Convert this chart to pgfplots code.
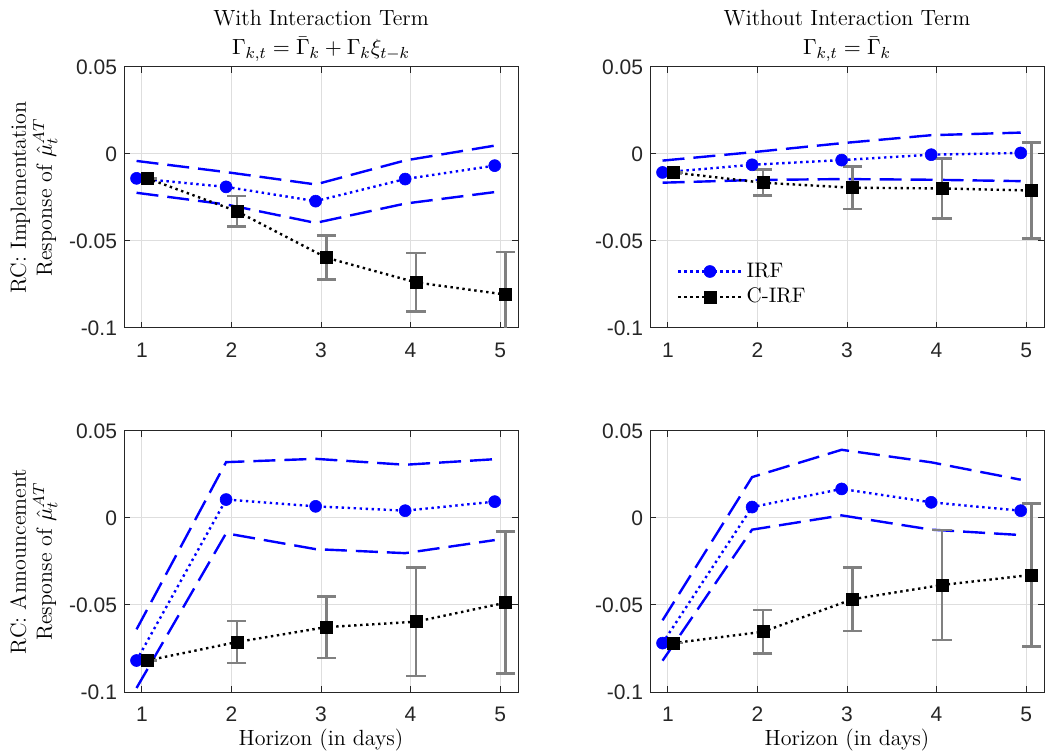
\documentclass[border=0pt]{standalone}
\usepackage{pgfplots}
\pgfplotsset{compat=1.18}
\usepackage{pgfplotstable}
\usepackage{fontspec}
\newfontfamily\arial{Liberation Sans}

\pgfplotstableread{
xi xc irf lo hi cirf err
0.94 1.06 -0.0140 -0.0223 -0.0040 -0.0140 0
1.94 2.06 -0.0189 -0.0290 -0.0104 -0.0329 0.0088
2.94 3.06 -0.0271 -0.0396 -0.0175 -0.0596 0.0127
3.94 4.06 -0.0144 -0.0285 -0.0037 -0.0738 0.0168
4.94 5.06 -0.0067 -0.0219 0.0048 -0.0808 0.0245
}\dataTL
\pgfplotstableread{
xi xc irf lo hi cirf err
0.94 1.06 -0.0106 -0.0165 -0.0038 -0.0106 0
1.94 2.06 -0.0062 -0.0150 0.0010 -0.0165 0.0075
2.94 3.06 -0.0035 -0.0144 0.0062 -0.0194 0.0123
3.94 4.06 -0.0004 -0.0148 0.0108 -0.0198 0.0172
4.94 5.06 0.0006 -0.0156 0.0123 -0.0210 0.0277
}\dataTR
\pgfplotstableread{
xi xc irf lo hi cirf err
0.94 1.06 -0.0819 -0.0977 -0.0640 -0.0819 0
1.94 2.06 0.0106 -0.0088 0.0321 -0.0713 0.0121
2.94 3.06 0.0067 -0.0179 0.0340 -0.0627 0.0177
3.94 4.06 0.0042 -0.0202 0.0306 -0.0596 0.0312
4.94 5.06 0.0094 -0.0127 0.0338 -0.0487 0.0408
}\dataBL
\pgfplotstableread{
xi xc irf lo hi cirf err
0.94 1.06 -0.0719 -0.0820 -0.0588 -0.0719 0
1.94 2.06 0.0063 -0.0067 0.0235 -0.0654 0.0125
2.94 3.06 0.0167 0.0015 0.0392 -0.0467 0.0182
3.94 4.06 0.0090 -0.0067 0.0320 -0.0385 0.0316
4.94 5.06 0.0042 -0.0098 0.0220 -0.0327 0.0412
}\dataBR

\pgfplotsset{
 panel/.style={scale only axis, width=197pt, height=130.5pt, anchor=south west,
  xmin=0.8, xmax=5.2, ymin=-0.1, ymax=0.05,
  xtick={1,2,3,4,5}, xticklabels={1,2,3,4,5},
  ytick={-0.1,-0.05,0,0.05}, yticklabels={-0.1,-0.05,0,0.05},
  grid=major, grid style={black!13, line width=0.5pt},
  axis line style={black!85, line width=0.5pt},
  tick style={black!85, line width=0.5pt}, major tick length=3pt, tick align=inside,
  ticklabel style={font=\arial\fontsize{10.5}{11}\selectfont, text=black!85},
  xticklabel style={yshift=-4pt},
  title style={align=center, font=\fontsize{11}{14.5}\selectfont, at={(axis description cs:0.5,1)}, anchor=south, inner sep=0pt, yshift=-3.5pt},
  ylabel style={align=center, font=\fontsize{11}{13}\selectfont, at={(axis description cs:-0.168,0.5)}, anchor=south, inner sep=0pt},
  xlabel style={font=\fontsize{11}{13}\selectfont, at={(axis description cs:0.5,-0.14)}, anchor=north, inner sep=0pt},
 },
 longlegend/.style={legend image code/.code={\draw[mark repeat=2, mark phase=2] plot coordinates {(0pt,0pt) (15.75pt,0pt) (31.5pt,0pt)};}},
 band/.style={blue, line width=1.2pt, dash pattern=on 11pt off 4.5pt, forget plot},
 irf/.style={blue, line width=1.2pt, dash pattern=on 1.2pt off 1.8pt, mark=*, mark size=3pt, mark options={solid, fill=blue, draw=blue, line width=0.3pt}, longlegend},
 cirf/.style={black, line width=1.2pt, dash pattern=on 1.2pt off 1.8pt, mark=square*, mark size=3pt, mark options={solid, fill=black, draw=black, line width=0.3pt}, longlegend,
  error bars/.cd, y dir=both, y explicit,
  error bar style={solid, draw=black!50, line width=1.3pt},
  error mark options={rotate=90, solid, draw=black!50, line width=1.3pt, mark size=4.8pt}},
}

\newcommand{\panelplots}[1]{%
 \addplot[band] table[x=xi, y=lo] {#1};
 \addplot[band] table[x=xi, y=hi] {#1};
 \addplot[irf] table[x=xi, y=irf] {#1};
 \addplot[cirf] table[x=xc, y=cirf, y error=err] {#1};
}

\begin{document}
\begin{tikzpicture}
\useasboundingbox (0,0) rectangle (523.5pt,376.5pt);

\begin{axis}[panel, at={(62pt,212.5pt)},
 title={With Interaction Term\\$\Gamma_{k,t}=\bar{\Gamma}_k+\Gamma_k\xi_{t-k}$},
 ylabel={RC: Implementation\\Response of $\hat{\mu}_t^{AT}$}]
\panelplots{\dataTL}
\end{axis}

\begin{axis}[panel, at={(325pt,212.5pt)},
 title={Without Interaction Term\\$\Gamma_{k,t}=\bar{\Gamma}_k$},
 legend style={draw=none, fill=none, font=\fontsize{10.5}{12}\selectfont, at={(axis description cs:0.068,0.167)}, anchor=west, inner sep=0pt, row sep=0pt},
 legend cell align=left]
\panelplots{\dataTR}
\legend{IRF, C-IRF}
\end{axis}

\begin{axis}[panel, at={(62pt,30.5pt)},
 ylabel={RC: Announcement\\Response of $\hat{\mu}_t^{AT}$},
 xlabel={Horizon (in days)}]
\panelplots{\dataBL}
\end{axis}

\begin{axis}[panel, at={(325pt,30.5pt)},
 xlabel={Horizon (in days)}]
\panelplots{\dataBR}
\end{axis}
\end{tikzpicture}
\end{document}
